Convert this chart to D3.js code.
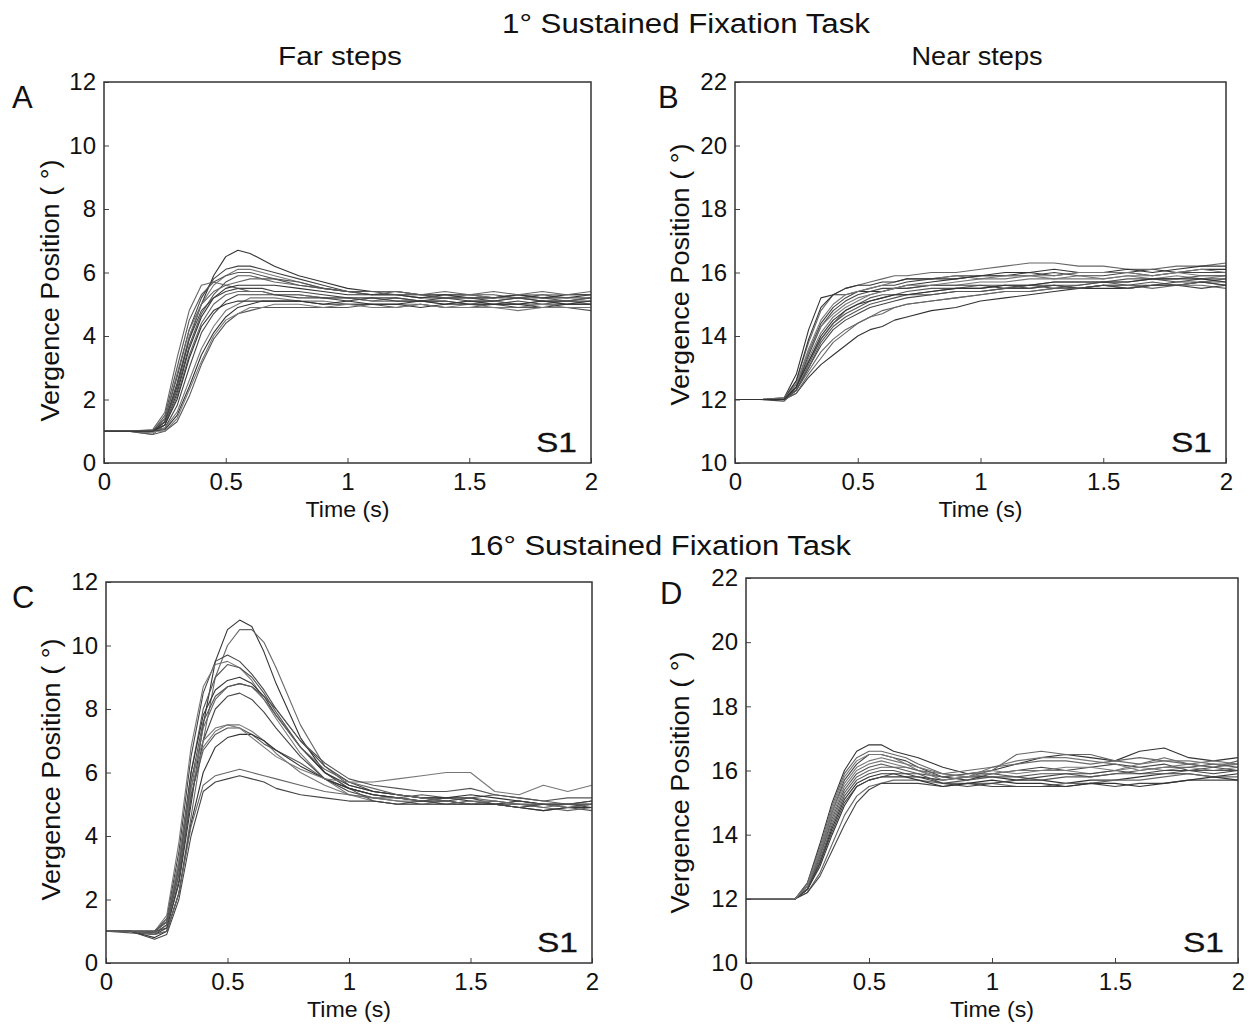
<!DOCTYPE html>
<html lang="en">
<head>
<meta charset="UTF-8">
<title>Sustained fixation vergence traces</title>
<script src="https://cdn.jsdelivr.net/npm/d3@7"></script>
<style>
    html, body {
        margin: 0;
        background: white;
        font-family: "Liberation Sans", Arial, sans-serif;
    }
    .tick text { font-family: "Liberation Sans", Arial, sans-serif; }
</style>
</head>
<body>
<div id="fig"></div>
<script>

// time samples (s), shared by every trace
var T = [0, 0.1, 0.2, 0.25, 0.3, 0.35, 0.4, 0.45, 0.5, 0.55, 0.6, 0.65, 0.7, 0.8, 0.9, 1.0, 1.1, 1.2, 1.3, 1.4, 1.5, 1.6, 1.7, 1.8, 1.9, 2.0];

// A: 1 deg task, far steps
var farSteps1 = [
    [1.0,1.0,1.0,1.3,2.4,3.9,5.0,5.9,6.5,6.7,6.6,6.4,6.2,5.9,5.7,5.5,5.4,5.4,5.3,5.3,5.3,5.2,5.3,5.2,5.2,5.3],
    [1.0,1.0,1.05,1.6,3.3,4.8,5.6,5.7,5.6,5.5,5.4,5.4,5.3,5.3,5.2,5.2,5.1,5.2,5.1,5.1,5.0,5.1,5.0,5.1,5.0,5.0],
    [1.0,1.0,1.0,1.4,2.7,4.2,5.2,5.8,6.1,6.2,6.2,6.1,6.0,5.8,5.6,5.4,5.3,5.3,5.2,5.2,5.2,5.1,5.2,5.1,5.1,5.2],
    [1.0,1.0,0.95,1.3,2.5,4.0,5.0,5.6,5.9,6.1,6.1,6.0,5.9,5.7,5.5,5.4,5.3,5.3,5.3,5.2,5.3,5.2,5.3,5.3,5.3,5.3],
    [1.0,1.0,1.0,1.3,2.3,3.7,4.7,5.3,5.7,5.9,5.9,5.8,5.8,5.7,5.5,5.4,5.3,5.4,5.3,5.3,5.3,5.3,5.2,5.3,5.2,5.2],
    [1.0,1.0,1.0,1.2,2.2,3.6,4.6,5.2,5.5,5.6,5.6,5.6,5.6,5.5,5.4,5.3,5.3,5.3,5.2,5.3,5.2,5.2,5.3,5.2,5.3,5.3],
    [1.0,1.0,0.9,1.2,2.1,3.4,4.4,5.0,5.3,5.4,5.4,5.4,5.3,5.3,5.2,5.2,5.1,5.1,5.1,5.0,5.1,5.1,5.0,5.0,5.1,5.0],
    [1.0,1.0,1.0,1.1,1.8,3.0,4.1,4.7,5.1,5.3,5.3,5.3,5.3,5.2,5.2,5.1,5.2,5.1,5.1,5.1,5.0,5.0,5.1,5.0,5.0,5.0],
    [1.0,1.0,1.0,1.1,1.6,2.6,3.6,4.3,4.8,5.0,5.2,5.2,5.2,5.1,5.1,5.0,5.0,5.0,5.0,4.9,5.0,4.9,4.9,5.0,4.9,4.9],
    [1.0,1.0,0.9,1.0,1.3,2.1,3.1,3.9,4.4,4.7,4.8,4.9,4.9,4.9,4.9,4.9,5.0,4.9,5.0,4.9,4.9,5.0,4.9,4.9,4.9,4.8],
    [1.0,1.0,1.0,1.05,1.5,2.4,3.4,4.1,4.6,4.9,5.0,5.1,5.1,5.1,5.0,5.0,5.0,5.0,4.9,5.0,5.0,5.0,5.0,4.9,5.0,5.0],
    [1.0,1.0,1.0,1.4,2.8,4.2,5.0,5.4,5.6,5.7,5.8,5.8,5.7,5.6,5.5,5.4,5.4,5.4,5.3,5.4,5.3,5.4,5.3,5.4,5.3,5.4],
    [1.0,1.0,1.0,1.3,2.5,3.9,4.8,5.2,5.4,5.5,5.5,5.5,5.4,5.4,5.3,5.2,5.2,5.2,5.1,5.2,5.1,5.1,5.2,5.1,5.1,5.1],
    [1.0,1.0,1.0,1.0,1.4,2.3,3.2,4.0,4.5,4.7,4.9,4.9,5.0,5.0,4.9,5.0,4.9,4.9,5.0,4.9,4.9,4.9,4.8,4.9,4.9,4.9],
    [1.0,1.0,1.0,1.5,3.0,4.5,5.3,5.7,5.9,6.0,6.0,5.9,5.8,5.6,5.5,5.4,5.4,5.3,5.3,5.2,5.2,5.2,5.2,5.2,5.1,5.2],
    [1.0,1.0,1.0,1.2,2.0,3.3,4.3,4.8,5.0,5.1,5.1,5.1,5.1,5.1,5.0,5.1,5.0,5.0,5.1,5.0,5.1,5.0,5.0,5.1,5.0,5.1]
];

// B: 1 deg task, near steps
var nearSteps1 = [
    [12,12,12.05,12.8,14.2,15.2,15.3,15.3,15.4,15.4,15.4,15.5,15.6,15.7,15.8,15.9,15.9,16.0,15.9,16.0,16.0,16.0,16.1,16.0,16.1,16.1],
    [12,12,12.05,12.6,13.8,14.8,15.3,15.5,15.6,15.7,15.8,15.9,15.9,16.0,16.0,16.1,16.2,16.3,16.3,16.2,16.2,16.1,16.1,16.2,16.2,16.3],
    [12,12,12.0,12.5,13.5,14.4,14.9,15.2,15.4,15.5,15.6,15.6,15.7,15.8,15.9,15.9,15.9,15.9,16.0,15.9,15.9,16.0,15.9,16.0,16.0,16.0],
    [12,12,12.0,12.4,13.3,14.1,14.6,14.9,15.1,15.3,15.4,15.5,15.5,15.6,15.6,15.7,15.7,15.8,15.8,15.8,15.8,15.9,15.8,15.9,15.8,15.9],
    [12,12,12.0,12.4,13.2,13.9,14.4,14.7,14.9,15.1,15.2,15.3,15.3,15.4,15.5,15.5,15.6,15.5,15.6,15.6,15.7,15.6,15.7,15.6,15.7,15.7],
    [12,12,12.0,12.2,12.7,13.1,13.4,13.7,14.0,14.2,14.3,14.5,14.6,14.8,14.9,15.1,15.2,15.3,15.4,15.5,15.5,15.5,15.6,15.6,15.7,15.6],
    [12,12,12.0,12.3,12.9,13.5,13.9,14.2,14.4,14.6,14.8,14.9,15.0,15.1,15.2,15.3,15.4,15.4,15.5,15.5,15.6,15.5,15.6,15.6,15.7,15.8],
    [12,12,11.95,12.3,13.0,13.7,14.2,14.5,14.7,14.9,15.0,15.1,15.2,15.3,15.4,15.4,15.5,15.5,15.6,15.5,15.6,15.6,15.6,15.7,15.7,15.6],
    [12,12,12.0,12.5,13.6,14.5,15.0,15.3,15.4,15.5,15.6,15.7,15.8,15.8,15.9,15.8,15.9,15.9,15.8,15.9,15.8,15.9,15.9,16.0,15.9,15.9],
    [12,12,12.0,12.3,13.1,13.9,14.4,14.8,15.0,15.2,15.3,15.3,15.4,15.5,15.5,15.6,15.6,15.6,15.7,15.7,15.7,15.8,15.8,15.7,15.8,15.8],
    [12,12,12.0,12.6,13.9,14.9,15.3,15.5,15.6,15.6,15.7,15.7,15.8,15.8,15.8,15.9,16.0,16.0,16.1,16.0,16.0,16.1,16.0,16.1,16.2,16.2],
    [12,12,12.0,12.2,12.8,13.3,13.8,14.1,14.4,14.6,14.7,14.9,15.0,15.1,15.2,15.3,15.4,15.4,15.5,15.5,15.6,15.6,15.5,15.6,15.6,15.5],
    [12,12,12.0,12.4,13.4,14.3,14.8,15.1,15.3,15.4,15.5,15.5,15.5,15.6,15.6,15.6,15.5,15.6,15.6,15.5,15.6,15.5,15.6,15.6,15.5,15.6],
    [12,12,12.0,12.5,13.5,14.3,14.7,15.0,15.2,15.3,15.4,15.5,15.6,15.6,15.7,15.8,15.8,15.9,15.9,16.0,16.0,16.0,15.9,16.0,16.1,16.0],
    [12,12,12.0,12.3,13.0,13.8,14.3,14.6,14.8,15.0,15.1,15.2,15.3,15.3,15.4,15.4,15.5,15.6,15.5,15.6,15.7,15.7,15.8,15.8,15.9,15.9],
    [12,12,12.0,12.4,13.2,14.0,14.5,14.8,15.0,15.1,15.2,15.3,15.3,15.4,15.5,15.5,15.6,15.6,15.7,15.7,15.7,15.7,15.8,15.8,15.8,15.7]
];

// C: 16 deg task, far steps
var farSteps16 = [
    [1.0,1.0,0.9,1.1,2.5,5.0,7.5,9.5,10.5,10.8,10.6,9.8,8.8,7.1,6.0,5.5,5.3,5.2,5.1,5.2,5.1,5.0,5.1,5.0,5.0,5.1],
    [1.0,1.0,0.9,1.0,2.2,4.6,7.0,9.0,10.0,10.5,10.5,10.1,9.3,7.5,6.2,5.6,5.4,5.3,5.2,5.2,5.2,5.1,5.0,4.9,5.0,5.0],
    [1.0,1.0,1.0,1.4,3.5,6.5,8.5,9.5,9.7,9.5,9.1,8.6,8.0,7.0,6.2,5.7,5.4,5.3,5.2,5.1,5.2,5.0,5.0,5.0,4.9,5.0],
    [1.0,1.0,1.0,1.5,3.8,6.8,8.7,9.4,9.5,9.3,8.9,8.3,7.7,6.6,5.8,5.3,5.1,5.0,5.0,5.1,5.0,5.0,4.9,5.0,4.9,4.9],
    [1.0,0.95,0.9,1.2,3.0,6.0,8.0,9.0,9.4,9.3,9.0,8.5,7.9,6.8,6.0,5.5,5.3,5.2,5.3,5.2,5.2,5.3,5.2,5.1,5.2,5.2],
    [1.0,1.0,1.0,1.3,3.2,6.0,7.8,8.6,8.9,9.0,8.8,8.4,7.8,6.8,6.0,5.6,5.4,5.3,5.2,5.2,5.3,5.2,5.1,5.0,5.0,5.0],
    [1.0,1.0,0.95,1.2,2.8,5.5,7.4,8.3,8.7,8.8,8.7,8.3,7.8,6.8,6.1,5.7,5.5,5.3,5.2,5.1,5.0,5.0,5.0,4.9,4.8,4.9],
    [1.0,1.0,1.0,1.1,2.6,5.2,7.0,8.0,8.4,8.5,8.3,7.9,7.4,6.5,5.8,5.4,5.2,5.1,5.0,5.0,5.1,5.0,5.1,5.0,5.0,5.1],
    [1.0,1.0,1.0,1.3,3.2,5.8,7.0,7.4,7.5,7.5,7.3,7.0,6.6,6.0,5.6,5.3,5.2,5.1,5.1,5.0,5.1,5.1,5.0,5.0,5.0,5.0],
    [1.0,1.0,0.95,1.2,2.8,5.3,6.7,7.2,7.4,7.4,7.2,6.9,6.7,6.3,5.8,5.5,5.1,5.0,5.0,5.0,5.0,5.0,4.9,4.8,4.9,4.8],
    [1.0,1.0,0.8,1.0,2.2,4.4,6.0,6.8,7.1,7.2,7.2,7.0,6.7,6.2,5.8,5.5,5.3,5.2,5.1,5.1,5.0,5.0,4.9,4.8,4.9,4.9],
    [1.0,1.0,0.9,1.0,2.2,4.3,5.6,5.9,6.0,6.1,6.0,5.9,5.8,5.6,5.4,5.3,5.2,5.2,5.1,5.1,5.0,5.1,5.0,5.0,4.9,5.0],
    [1.0,1.0,0.75,0.9,2.0,4.0,5.4,5.7,5.8,5.9,5.8,5.7,5.5,5.3,5.2,5.1,5.1,5.0,5.1,5.0,5.0,5.0,4.9,5.0,5.0,4.9],
    [1.0,1.0,1.0,1.3,3.0,5.5,6.8,7.3,7.5,7.4,7.1,6.8,6.5,6.1,5.8,5.7,5.7,5.8,5.9,6.0,6.0,5.4,5.3,5.6,5.4,5.6],
    [1.0,1.0,1.0,1.3,3.0,5.7,7.6,8.4,8.7,8.8,8.7,8.4,8.0,7.0,6.3,5.8,5.6,5.5,5.4,5.4,5.5,5.3,5.2,5.1,5.0,5.0]
];

// D: 16 deg task, near steps
var nearSteps16 = [
    [12,12,12.0,12.5,13.7,15.0,16.0,16.6,16.8,16.8,16.6,16.5,16.4,16.1,15.9,16.0,16.2,16.4,16.5,16.4,16.3,16.6,16.7,16.4,16.3,16.4],
    [12,12,12.0,12.5,13.6,14.9,15.9,16.4,16.6,16.6,16.5,16.4,16.2,15.9,15.8,16.0,16.5,16.6,16.5,16.5,16.3,16.2,16.4,16.2,16.1,16.2],
    [12,12,12.0,12.4,13.4,14.7,15.7,16.2,16.5,16.5,16.4,16.3,16.1,15.8,15.7,15.9,16.0,16.1,16.0,16.1,16.2,16.1,16.2,16.0,16.1,16.0],
    [12,12,12.0,12.4,13.4,14.6,15.5,16.0,16.2,16.3,16.2,16.1,16.0,15.8,15.9,16.0,15.9,16.0,16.0,15.9,16.0,16.1,16.0,16.1,16.0,16.1],
    [12,12,12.0,12.3,13.2,14.3,15.2,15.7,15.9,16.0,16.0,15.9,15.9,15.8,15.9,15.9,15.8,15.9,15.9,15.8,15.9,16.0,16.1,16.1,16.2,16.1],
    [12,12,12.0,12.3,13.0,14.0,14.9,15.5,15.7,15.8,15.8,15.8,15.8,15.7,15.8,15.8,15.7,15.7,15.6,15.7,15.7,15.8,15.9,15.9,15.8,15.9],
    [12,12,12.0,12.2,12.8,13.7,14.6,15.2,15.5,15.6,15.7,15.7,15.7,15.6,15.6,15.6,15.5,15.5,15.6,15.6,15.7,15.7,15.8,15.9,15.8,15.8],
    [12,12,12.0,12.2,12.7,13.5,14.3,15.0,15.4,15.6,15.6,15.6,15.6,15.5,15.6,15.5,15.5,15.5,15.5,15.6,15.5,15.6,15.6,15.7,15.7,15.7],
    [12,12,12.0,12.4,13.5,14.8,15.8,16.3,16.5,16.5,16.4,16.2,16.0,15.7,15.8,16.1,16.3,16.4,16.4,16.3,16.2,16.0,16.1,16.2,16.3,16.2],
    [12,12,12.0,12.3,13.3,14.5,15.4,15.9,16.1,16.2,16.1,16.0,15.9,15.6,15.7,15.8,15.8,15.7,15.8,15.8,15.9,15.9,15.9,16.0,16.0,16.0],
    [12,12,12.0,12.3,13.1,14.2,15.1,15.6,15.8,15.9,15.9,15.8,15.7,15.5,15.6,15.7,15.6,15.6,15.5,15.6,15.6,15.5,15.6,15.7,15.8,15.7],
    [12,12,12.0,12.4,13.3,14.4,15.3,15.8,16.0,16.1,16.1,16.1,16.0,15.9,16.0,16.1,16.2,16.3,16.3,16.2,16.3,16.4,16.3,16.2,16.1,16.3],
    [12,12,12.0,12.3,13.1,14.1,15.0,15.5,15.7,15.8,15.9,15.9,15.8,15.6,15.5,15.6,15.7,15.8,15.9,15.9,16.0,15.9,16.0,16.0,15.9,16.0],
    [12,12,12.0,12.4,13.5,14.7,15.6,16.1,16.3,16.4,16.3,16.2,16.1,15.9,15.8,15.9,16.0,16.0,16.1,16.1,16.0,16.2,16.3,16.3,16.2,16.2]
];

var xTicks = [0, 0.5, 1, 1.5, 2];
var farTicks = [0, 2, 4, 6, 8, 10, 12];
var nearTicks = [10, 12, 14, 16, 18, 20, 22];

var width = 1252, height = 1025;

var svg = d3.select('#fig')
    .append('svg')
        .attr('width', width)
        .attr('height', height)
        .style('display', 'block');

// box edges, panel letter x, and y-label offsets (dx from axis, dy from centre)
var panels = [
    {letter: 'A', lx: 12,  labDx: 45, labDy: 18,  traces: farSteps1,   yDom: [0, 12],  yTicks: farTicks,  l: 104, t: 82,  r: 591,  b: 463},
    {letter: 'B', lx: 658, labDx: 46, labDy: 2,   traces: nearSteps1,  yDom: [10, 22], yTicks: nearTicks, l: 735, t: 82,  r: 1226, b: 463},
    {letter: 'C', lx: 12,  labDx: 46, labDy: -3,  traces: farSteps16,  yDom: [0, 12],  yTicks: farTicks,  l: 106, t: 582, r: 592,  b: 963},
    {letter: 'D', lx: 660, labDx: 57, labDy: 12,  traces: nearSteps16, yDom: [10, 22], yTicks: nearTicks, l: 746, t: 578, r: 1238, b: 963}
];

var lineColours = ['#333', '#666', '#444', '#777', '#555'];

panels.forEach(function(p) {
    var x = d3.scaleLinear().domain([0, 2]).range([p.l, p.r]);
    var y = d3.scaleLinear().domain(p.yDom).range([p.b, p.t]);

    var g = svg.append('g').attr('class', 'panel');

    var line = d3.line()
        .x(function(d, i) { return x(T[i]); })
        .y(function(d) { return y(d); });

    g.selectAll('.trace')
        .data(p.traces)
        .enter()
        .append('path')
        .attr('class', 'trace')
        .attr('d', line)
        .attr('fill', 'none')
        .attr('stroke', function(d, i) { return lineColours[i % lineColours.length]; })
        .attr('stroke-width', 1.1)
        .attr('stroke-linejoin', 'round');

    // matlab style: ticks point inward
    var xAxis = d3.axisBottom(x).tickValues(xTicks).tickFormat(function(d) { return d; })
        .tickSizeInner(-5).tickSizeOuter(0).tickPadding(10);
    var yAxis = d3.axisLeft(y).tickValues(p.yTicks).tickFormat(function(d) { return d; })
        .tickSizeInner(-5).tickSizeOuter(0).tickPadding(8);

    var gx = g.append('g').attr('transform', 'translate(0,' + p.b + ')').call(xAxis);
    var gy = g.append('g').attr('transform', 'translate(' + p.l + ',0)').call(yAxis);

    [gx, gy].forEach(function(a) {
        a.select('.domain').remove();
        a.selectAll('.tick line').attr('stroke', '#444');
        a.selectAll('.tick text').attr('font-size', 24).attr('fill', '#111');
    });

    g.append('rect')
        .attr('x', p.l).attr('y', p.t)
        .attr('width', p.r - p.l).attr('height', p.b - p.t)
        .attr('fill', 'none')
        .attr('stroke', '#333')
        .attr('stroke-width', 1.5);

    g.append('text')
        .attr('transform', 'translate(' + (p.l - p.labDx) + ',' + ((p.t + p.b) / 2 + p.labDy) + ')rotate(-90)')
        .attr('text-anchor', 'middle')
        .attr('font-size', 26)
        .attr('textLength', 262)
        .attr('lengthAdjust', 'spacingAndGlyphs')
        .attr('fill', '#111')
        .text('Vergence Position ( °)');

    g.append('text')
        .attr('x', (p.l + p.r) / 2)
        .attr('y', p.b + 54)
        .attr('text-anchor', 'middle')
        .attr('font-size', 22)
        .attr('textLength', 84)
        .attr('lengthAdjust', 'spacingAndGlyphs')
        .attr('fill', '#111')
        .text('Time (s)');

    g.append('text')
        .attr('x', p.r - 14)
        .attr('y', p.b - 11)
        .attr('text-anchor', 'end')
        .attr('font-size', 28)
        .attr('textLength', 41)
        .attr('lengthAdjust', 'spacingAndGlyphs')
        .attr('fill', '#111')
        .attr('stroke', '#111')
        .attr('stroke-width', 0.3)
        .text('S1');

    g.append('text')
        .attr('x', p.lx)
        .attr('y', p.t + 26)
        .attr('font-size', 31)
        .attr('fill', '#111')
        .text(p.letter);
});

// headings
var heads = [
    {txt: '1° Sustained Fixation Task', x: 686, y: 33, size: 27, len: 368},
    {txt: 'Far steps', x: 340, y: 65, size: 25, len: 124},
    {txt: 'Near steps', x: 977, y: 65, size: 25, len: 131},
    {txt: '16° Sustained Fixation Task', x: 660, y: 555, size: 27, len: 382}
];

svg.selectAll('.head')
    .data(heads)
    .enter()
    .append('text')
    .attr('class', 'head')
    .attr('x', function(d) { return d.x; })
    .attr('y', function(d) { return d.y; })
    .attr('text-anchor', 'middle')
    .attr('font-size', function(d) { return d.size; })
    .attr('textLength', function(d) { return d.len; })
    .attr('lengthAdjust', 'spacingAndGlyphs')
    .attr('fill', '#111')
    .text(function(d) { return d.txt; });

</script>
</body>
</html>
